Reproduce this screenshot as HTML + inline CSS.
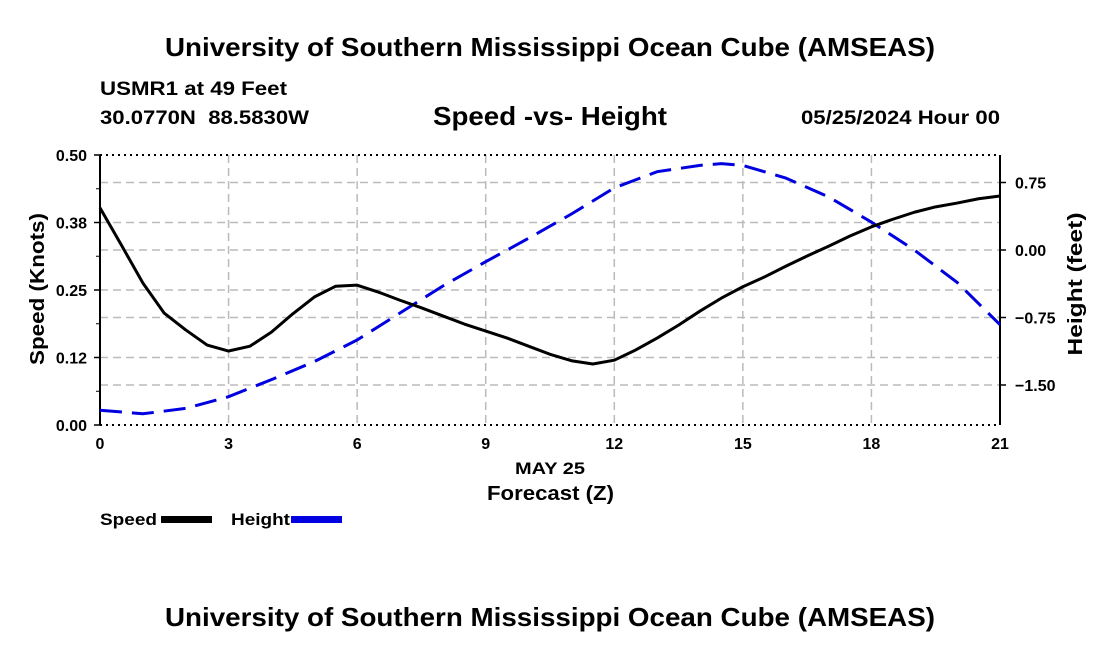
<!DOCTYPE html>
<html><head><meta charset="utf-8"><style>
body{margin:0;background:#fff;width:1100px;height:650px;overflow:hidden}
svg{font-family:"Liberation Sans",sans-serif;font-weight:bold}
</style></head><body>
<svg id="c" width="1100" height="650" xmlns="http://www.w3.org/2000/svg">
<text x="165" y="56" font-size="26" textLength="770" lengthAdjust="spacingAndGlyphs">University of Southern Mississippi Ocean Cube (AMSEAS)</text>
<text x="100" y="95" font-size="19" textLength="187" lengthAdjust="spacingAndGlyphs">USMR1 at 49 Feet</text>
<text x="100" y="124" font-size="19" textLength="209" lengthAdjust="spacingAndGlyphs" style="white-space:pre">30.0770N  88.5830W</text>
<text x="433" y="125" font-size="26" textLength="234" lengthAdjust="spacingAndGlyphs">Speed -vs- Height</text>
<text x="801" y="124" font-size="19" textLength="199" lengthAdjust="spacingAndGlyphs">05/25/2024 Hour 00</text>
<text x="515" y="474" font-size="17" textLength="70" lengthAdjust="spacingAndGlyphs">MAY 25</text>
<text x="487" y="500" font-size="20" textLength="127" lengthAdjust="spacingAndGlyphs">Forecast (Z)</text>
<text transform="translate(44,289) rotate(-90)" font-size="20" text-anchor="middle" textLength="152" lengthAdjust="spacingAndGlyphs">Speed (Knots)</text>
<text transform="translate(1082,284) rotate(-90)" font-size="20" text-anchor="middle" textLength="143" lengthAdjust="spacingAndGlyphs">Height (feet)</text>
<g>
<text x="100" y="525" font-size="17" textLength="57" lengthAdjust="spacingAndGlyphs">Speed</text>
<rect x="161" y="516" width="51" height="7" fill="#000"/>
<text x="231" y="525" font-size="17" textLength="59" lengthAdjust="spacingAndGlyphs">Height</text>
<rect x="291" y="516" width="51" height="7" fill="#0000e0"/>
</g>
<text x="165" y="626" font-size="26" textLength="770" lengthAdjust="spacingAndGlyphs">University of Southern Mississippi Ocean Cube (AMSEAS)</text>
<g id="plot"></g>
</svg>
<script>
const speedHours=[0,0.5,1,1.5,2,2.5,3,3.5,4,4.5,5,5.5,6,6.5,7,7.5,8,8.5,9,9.5,10,10.5,11,11.5,12,12.5,13,13.5,14,14.5,15,15.5,16,16.5,17,17.5,18,18.5,19,19.5,20,20.5,21];
const speedValues=[0.402,0.333,0.263,0.207,0.176,0.148,0.137,0.146,0.172,0.206,0.237,0.257,0.259,0.246,0.231,0.217,0.202,0.187,0.174,0.161,0.146,0.131,0.119,0.113,0.120,0.139,0.161,0.185,0.211,0.235,0.256,0.274,0.294,0.313,0.331,0.350,0.367,0.381,0.394,0.404,0.411,0.419,0.424];
const heightHours=[0,1,2,3,4,5,6,7,8,9,10,11,12,13,14,14.5,15,16,17,18,19,20,21];
const heightValues=[-1.78,-1.82,-1.76,-1.63,-1.44,-1.24,-1.0,-0.70,-0.40,-0.13,0.13,0.40,0.69,0.87,0.94,0.96,0.94,0.80,0.59,0.31,0,-0.36,-0.83];
const xTicks=[0,3,6,9,12,15,18,21];
const leftTicks=[0,0.125,0.25,0.375,0.5];
const leftLabels=["0.00","0.12","0.25","0.38","0.50"];
const rightTicks=[-1.5,-0.75,0,0.75];
const rightLabels=["\u22121.50","\u22120.75","0.00","0.75"];

const X0=100,X1=1000,Y0=425,Y1=155;
const xs=h=>X0+(h/21)*(X1-X0);
const ys=v=>Y0-(v/0.5)*(Y0-Y1);
const yh=f=>250-f*90;
const g=document.getElementById('plot');
const NS='http://www.w3.org/2000/svg';
function mk(t,a){const e=document.createElementNS(NS,t);for(const k in a)e.setAttribute(k,a[k]);g.appendChild(e);return e;}

leftTicks.forEach((v,i)=>{
 if(v>0&&v<0.5){const l=mk('line',{x1:X0,x2:X1,y1:ys(v),y2:ys(v),stroke:'#bbb','stroke-width':1.5,'stroke-dasharray':'8,5'});
 
 }
 const t=mk('text',{x:X0-13,y:ys(v)+6,'font-size':16,'text-anchor':'end'});t.textContent=leftLabels[i];
 
 
 mk('line',{x1:X0-6,x2:X0,y1:ys(v),y2:ys(v),stroke:'#000','stroke-width':1.5});
});
[0.0625,0.1875,0.3125,0.4375].forEach(v=>mk('line',{x1:X0-4,x2:X0,y1:ys(v),y2:ys(v),stroke:'#000'}));
rightTicks.forEach((v,i)=>{
 const l=mk('line',{x1:X0,x2:X1,y1:yh(v),y2:yh(v),stroke:'#bbb','stroke-width':1.5,'stroke-dasharray':'8,5'});
 
 
 const t=mk('text',{x:X1+15,y:yh(v)+6,'font-size':16});t.textContent=rightLabels[i];
 
 
 mk('line',{x1:X1,x2:X1+6,y1:yh(v),y2:yh(v),stroke:'#000','stroke-width':1.5});
});
xTicks.forEach(h=>{
 if(h>0&&h<21){const l=mk('line',{x1:xs(h),x2:xs(h),y1:Y1,y2:Y0,stroke:'#bbb','stroke-width':1.5,'stroke-dasharray':'8,5'});
 
 }
 const t=mk('text',{x:xs(h),y:Y0+24,'font-size':16,'text-anchor':'middle'});t.textContent=h;
 
 
});
mk('line',{x1:X0,x2:X1,y1:Y1,y2:Y1,stroke:'#000','stroke-width':2,'stroke-dasharray':'2,4'});
mk('line',{x1:X0,x2:X1,y1:Y0,y2:Y0,stroke:'#000','stroke-width':2,'stroke-dasharray':'2,4'});
const la=mk('line',{x1:X0,x2:X0,y1:Y1,y2:Y0,stroke:'#000','stroke-width':2});


const ra=mk('line',{x1:X1,x2:X1,y1:Y1,y2:Y0,stroke:'#000','stroke-width':2});



const hp=mk('polyline',{points:heightHours.map((h,i)=>xs(h)+','+yh(heightValues[i])).join(' '),fill:'none',stroke:'#0000e0','stroke-width':3,'stroke-dasharray':'22,10'});


const sp=mk('polyline',{points:speedHours.map((h,i)=>xs(h)+','+ys(speedValues[i])).join(' '),fill:'none',stroke:'#000','stroke-width':3,'stroke-linejoin':'round'});


</script>
</body></html>
